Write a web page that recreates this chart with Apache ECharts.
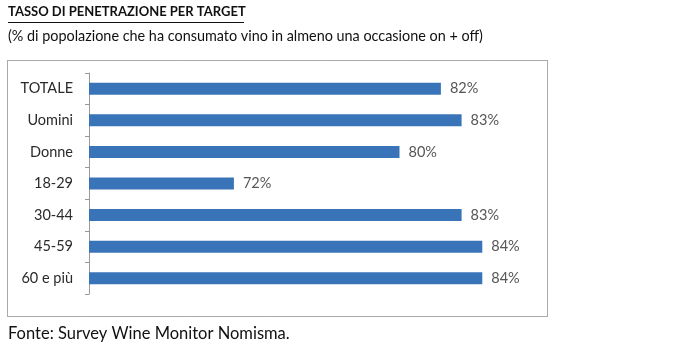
<!DOCTYPE html>
<html><head><meta charset="utf-8">
<script src="https://cdn.jsdelivr.net/npm/echarts@6/dist/echarts.min.js"></script>
<style>html,body{margin:0;padding:0;background:#fff}#c{width:677px;height:362px}</style>
</head><body><div id="c"></div>
<script>
const categories = ['TOTALE', 'Uomini', 'Donne', '18-29', '30-44', '45-59', '60 e più'];
const values = [82, 83, 80, 72, 83, 84, 84];
const titleText = 'TASSO DI PENETRAZIONE PER TARGET';
const subtitleText = '(% di popolazione che ha consumato vino in almeno una occasione on + off)';
const sourceText = 'Fonte: Survey Wine Monitor Nomisma.';

const FONT = 'Lato';
const chart = echarts.init(document.getElementById('c'), null, {renderer: 'canvas'});
chart.setOption({
  backgroundColor: '#fff',
  animation: false,
  title: [
    {text: titleText, left: 8, top: 5, padding: 0, textStyle: {fontFamily: FONT, fontSize: 13, fontWeight: 'bold', color: '#111'}},
    {text: subtitleText, left: 8, top: 29, padding: 0, textStyle: {fontFamily: FONT, fontSize: 14.4, fontWeight: 'normal', color: '#111'}},
    {text: sourceText, left: 8, top: 325, padding: 0, textStyle: {fontFamily: FONT, fontSize: 16.5, fontWeight: 'normal', color: '#111'}}
  ],
  graphic: [
    {type: 'rect', shape: {x: 7.5, y: 60.5, width: 540, height: 256}, style: {fill: 'none', stroke: '#555', lineWidth: 1, lineDash: [1, 1]}, z: -1},
    {type: 'line', shape: {x1: 8, y1: 22.5, x2: 244, y2: 22.5}, style: {stroke: '#111', lineWidth: 1}}
  ],
  grid: {left: 89, top: 73, width: 414, height: 221, containLabel: false},
  xAxis: {type: 'value', min: 65, max: 85, show: false},
  yAxis: {
    type: 'category', data: categories, inverse: true,
    axisLine: {show: true, lineStyle: {color: '#999', width: 1}},
    axisTick: {show: true, length: 4, lineStyle: {color: '#999'}},
    axisLabel: {fontFamily: FONT, fontSize: 14.5, color: '#2a2a2a', margin: 16},
    splitLine: {show: false}
  },
  series: [{
    type: 'bar', data: values, barWidth: 12,
    itemStyle: {color: '#3a74b8'},
    label: {show: true, position: 'right', distance: 9, formatter: '{c}%', fontFamily: FONT, fontSize: 14.5, color: '#555'}
  }]
});
</script></body></html>
